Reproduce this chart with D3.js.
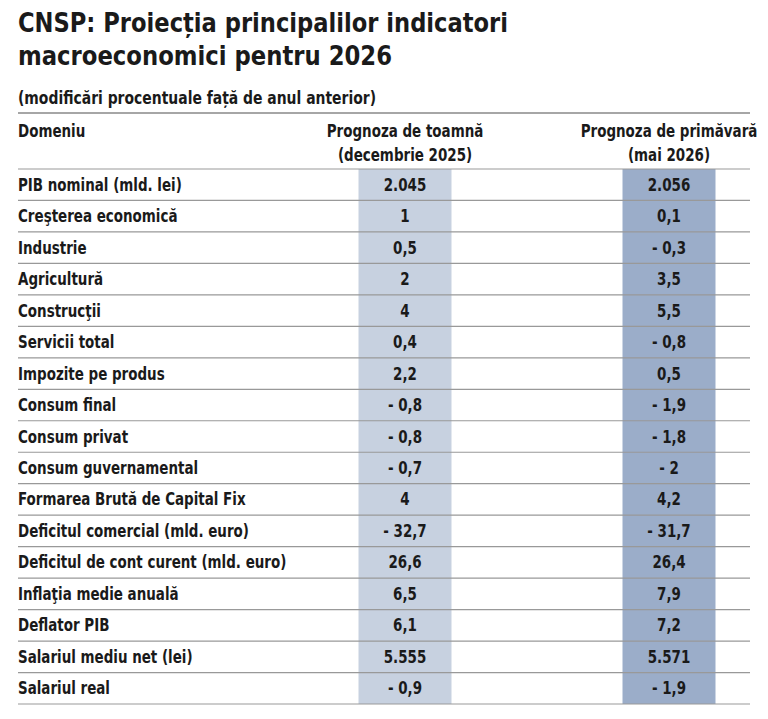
<!DOCTYPE html>
<html><head><meta charset="utf-8">
<script src="https://cdn.jsdelivr.net/npm/d3@7"></script>
<style>body{margin:0;background:#fff}text{font-family:"DejaVu Sans Condensed","DejaVu Sans",sans-serif;font-weight:bold;fill:#1a1a1a}</style>
</head><body><div id="chart"></div>
<script>
const indicators = ["PIB nominal (mld. lei)","Creşterea economică","Industrie","Agricultură","Construcţii","Servicii total","Impozite pe produs","Consum final","Consum privat","Consum guvernamental","Formarea Brută de Capital Fix","Deficitul comercial (mld. euro)","Deficitul de cont curent (mld. euro)","Inflaţia medie anuală","Deflator PIB","Salariul mediu net (lei)","Salariul real"];
const autumn = ["2.045","1","0,5","2","4","0,4","2,2","- 0,8","- 0,8","- 0,7","4","- 32,7","26,6","6,5","6,1","5.555","- 0,9"];
const spring = ["2.056","0,1","- 0,3","3,5","5,5","- 0,8","0,5","- 1,9","- 1,8","- 2","4,2","- 31,7","26,4","7,9","7,2","5.571","- 1,9"];

const W = 768, H = 719, SX = 0.88;
const svg = d3.select("#chart").append("svg").attr("width", W).attr("height", H);

const y = d3.scaleBand().domain(indicators).range([169, 704]);
const cols = [
  {vals: autumn, cx: 405, w: 93, fill: "#c7d1e0", head: ["Prognoza de toamnă", "(decembrie 2025)"]},
  {vals: spring, cx: 669, w: 93, fill: "#9badc9", head: ["Prognoza de primăvară", "(mai 2026)"]}
];

// condensed text helper
const txt = (sel, x, yy) => sel.attr("transform", `translate(${x},${yy}) scale(${SX},1)`);

svg.append("text").attr("x", 18).attr("y", 32).style("font-size", "27px").attr("textLength", 490)
  .attr("lengthAdjust", "spacingAndGlyphs").text("CNSP: Proiecția principalilor indicatori");
svg.append("text").attr("x", 18).attr("y", 65).style("font-size", "27px").attr("textLength", 374)
  .attr("lengthAdjust", "spacingAndGlyphs").text("macroeconomici pentru 2026");
svg.append("text").attr("x", 18).attr("y", 104).style("font-size", "17px").attr("textLength", 358)
  .attr("lengthAdjust", "spacingAndGlyphs").text("(modificări procentuale față de anul anterior)");

cols.forEach(c => {
  svg.append("rect").attr("x", c.cx - c.w / 2).attr("y", y.range()[0]).attr("width", c.w)
    .attr("height", y.range()[1] - y.range()[0]).attr("fill", c.fill);
});

svg.append("line").attr("x1", 18).attr("x2", 750).attr("y1", 113).attr("y2", 113).attr("stroke", "#888").attr("stroke-width", 1.5);
txt(svg.append("text").style("font-size", "17px").text("Domeniu"), 18, 137);
cols.forEach(c => {
  c.head.forEach((h, i) => txt(svg.append("text").attr("text-anchor", "middle")
    .style("font-size", "17px").text(h), c.cx, 137 + i * 24));
});

const rows = svg.selectAll("g.row").data(indicators).enter().append("g").attr("class", "row");
rows.append("line").attr("x1", 18).attr("x2", 750)
  .attr("y1", d => y(d)).attr("y2", d => y(d)).attr("stroke", "#999").attr("stroke-width", 1.2);
rows.append("text").attr("transform", d => `translate(18,${y(d) + y.bandwidth() / 2 + 6}) scale(${SX},1)`)
  .style("font-size", "17px").text(d => d);
cols.forEach(c => {
  rows.append("text").attr("transform", d => `translate(${c.cx},${y(d) + y.bandwidth() / 2 + 6}) scale(${SX},1)`)
    .attr("text-anchor", "middle").style("font-size", "17px").text((d, i) => c.vals[i]);
});
svg.append("line").attr("x1", 18).attr("x2", 750).attr("y1", 704).attr("y2", 704).attr("stroke", "#999").attr("stroke-width", 1.2);
</script></body></html>
